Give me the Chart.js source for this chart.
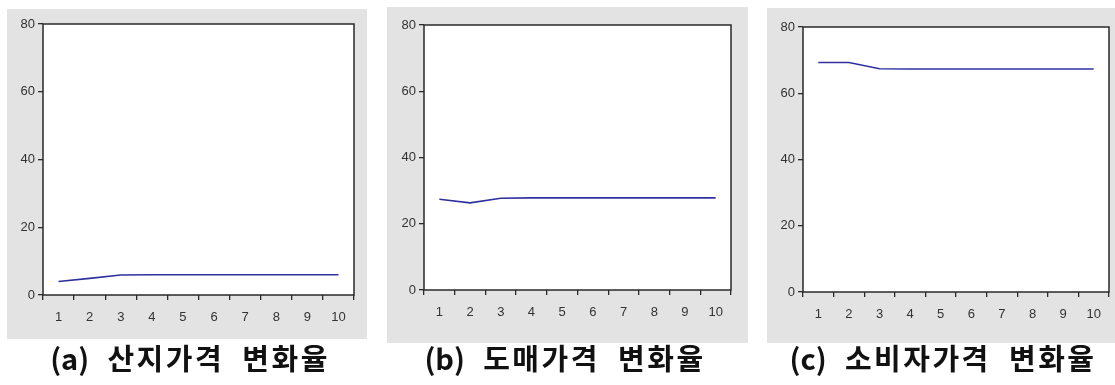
<!DOCTYPE html>
<html>
<head>
<meta charset="utf-8">
<script src="https://cdn.jsdelivr.net/npm/chart.js@4.4.0/dist/chart.umd.min.js"></script>
<style>
  body { margin: 0; background: #fff; width: 1115px; height: 385px; position: relative; overflow: hidden; }
  .panel { position: absolute; background: #e3e3e3; }
  .caption { position: absolute; top: 336px; width: 380px; text-align: center;
             font-family: "Noto Sans CJK KR", sans-serif; font-weight: 700; font-size: 29px;
             letter-spacing: 2.5px; color: #111; white-space: pre; }
  .caption .tag { letter-spacing: 0; }
</style>
</head>
<body>
<div class="panel" style="left:7px;top:9px;width:360px;height:330px"><canvas id="farm" width="360" height="330"></canvas></div>
<div class="panel" style="left:387px;top:7px;width:361px;height:336px"><canvas id="wholesale" width="361" height="336"></canvas></div>
<div class="panel" style="left:767px;top:8px;width:348px;height:335px"><canvas id="consumer" width="348" height="335"></canvas></div>
<div class="caption" style="left:0px"><span class="tag">(a)</span>  산지가격  변화율</div>
<div class="caption" style="left:375px"><span class="tag">(b)</span>  도매가격  변화율</div>
<div class="caption" style="left:753px"><span class="tag">(c)</span>  소비자가격  변화율</div>
<script>
const periods = ['1', '2', '3', '4', '5', '6', '7', '8', '9', '10'];
const farmRate = [4.0, 4.9, 5.9, 6.0, 6.0, 6.0, 6.0, 6.0, 6.0, 6.0];
const wholesaleRate = [27.4, 26.3, 27.7, 27.8, 27.8, 27.8, 27.8, 27.8, 27.8, 27.8];
const consumerRate = [69.3, 69.3, 67.4, 67.3, 67.3, 67.3, 67.3, 67.3, 67.3, 67.3];

// white plot area with a dark frame all round
const framePlugin = {
    id: 'frame',
    beforeDraw(chart) {
        const a = chart.chartArea, ctx = chart.ctx;
        ctx.save();
        ctx.fillStyle = '#ffffff';
        ctx.fillRect(a.left, a.top, a.right - a.left, a.bottom - a.top);
        ctx.restore();
    },
    afterDraw(chart) {
        const a = chart.chartArea, ctx = chart.ctx;
        ctx.save();
        ctx.strokeStyle = '#2a2a2a';
        ctx.lineWidth = 1.5;
        ctx.strokeRect(a.left, a.top, a.right - a.left, a.bottom - a.top);
        ctx.restore();
    }
};

const tickFont = { family: 'Liberation Sans', size: 13 };

function makeChart(id, values, box) {
    return new Chart(document.getElementById(id), {
        type: 'line',
        data: {
            labels: periods,
            datasets: [{
                data: values,
                borderColor: '#3030a0',
                borderWidth: 1.6,
                pointRadius: 0,
                tension: 0,
                fill: false
            }]
        },
        options: {
            responsive: false,
            animation: false,
            layout: { padding: { top: box.top, right: box.right, left: 0, bottom: 0 } },
            plugins: { legend: { display: false }, tooltip: { enabled: false } },
            scales: {
                x: {
                    offset: true,
                    grid: { offset: true, drawOnChartArea: false, color: '#2a2a2a', lineWidth: 1.3, tickLength: 5 },
                    border: { display: false },
                    ticks: { color: '#333', padding: 10, font: tickFont },
                    afterFit(scale) { scale.height = box.bottom; }
                },
                y: {
                    min: 0,
                    max: 80,
                    ticks: { stepSize: 20, color: '#333', padding: 3, font: tickFont },
                    grid: { drawOnChartArea: false, color: '#2a2a2a', lineWidth: 1.3, tickLength: 5 },
                    border: { display: false },
                    afterFit(scale) { scale.width = box.left; }
                }
            }
        },
        plugins: [framePlugin]
    });
}

makeChart('farm', farmRate, { left: 36, top: 15, right: 13, bottom: 44 });
makeChart('wholesale', wholesaleRate, { left: 37, top: 18, right: 17, bottom: 53 });
makeChart('consumer', consumerRate, { left: 36, top: 19, right: 6, bottom: 51 });
</script>
</body>
</html>
